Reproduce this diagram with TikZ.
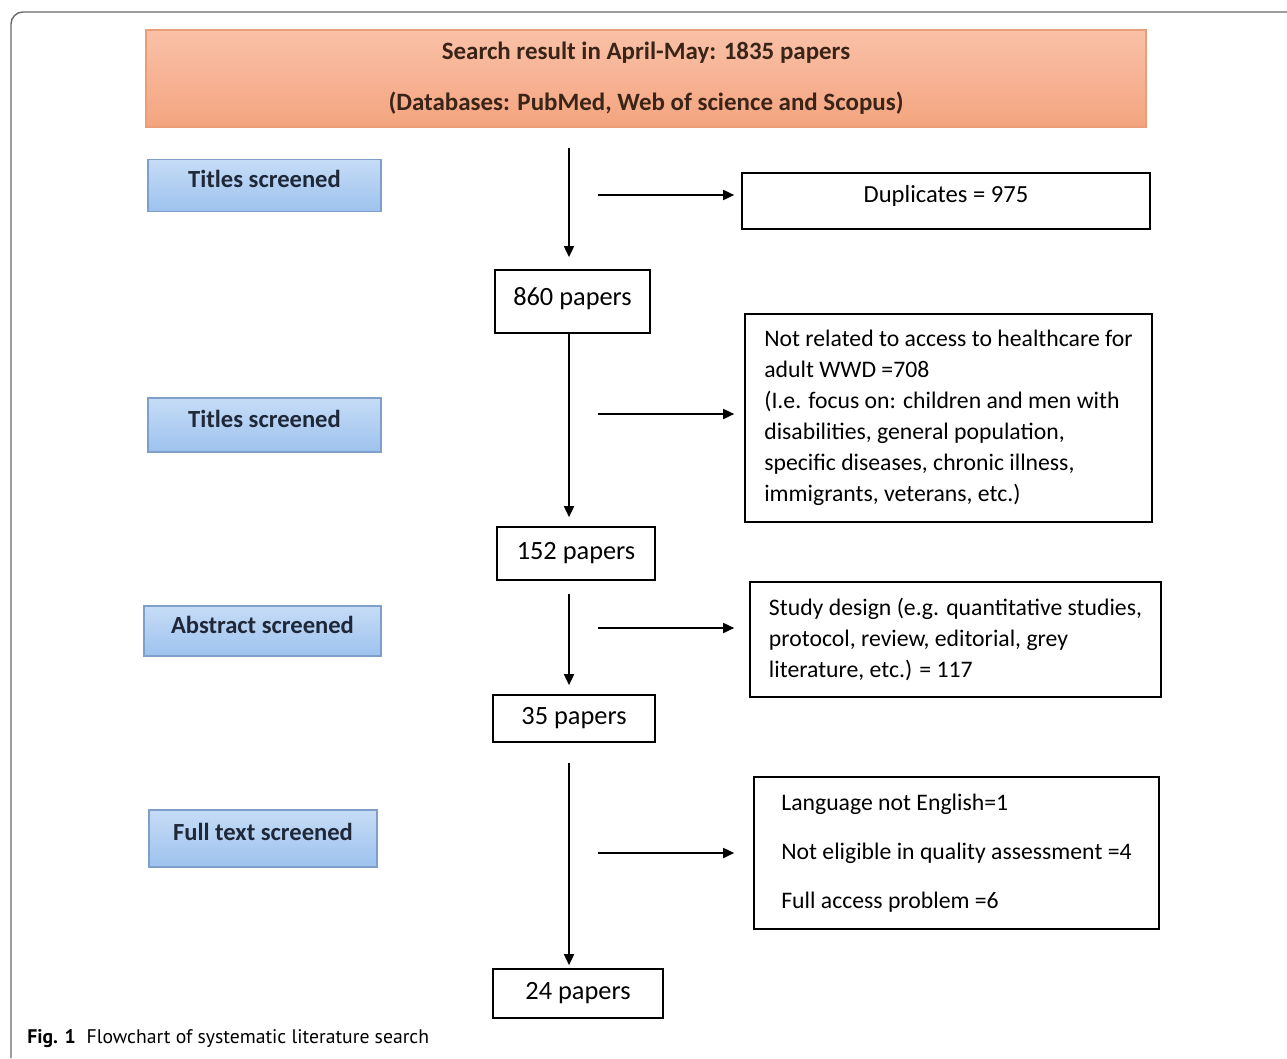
\documentclass[tikz,border=0pt]{standalone}
\usepackage{fontspec}
\setmainfont{Carlito}
\newfontfamily\capfont{PT Sans}
\usetikzlibrary{positioning, arrows.meta}

\definecolor{srchtop}{HTML}{F9C1A8}
\definecolor{srchbot}{HTML}{F4A47F}
\definecolor{srchline}{HTML}{E99E78}
\definecolor{srchtext}{HTML}{3A2418}
\definecolor{stagetop}{HTML}{C6DCF6}
\definecolor{stagebot}{HTML}{9DC2EE}
\definecolor{stageline}{HTML}{7D9FC8}
\definecolor{stagetext}{HTML}{1E2838}
\definecolor{framegray}{HTML}{6A6A6A}

\begin{document}
\begin{tikzpicture}[
    x=0.02cm, y=-0.02cm,
    search/.style={rectangle, draw=srchline, line width=1pt, top color=srchtop, bottom color=srchbot, minimum width=20cm, minimum height=1.94cm, align=center, text=srchtext, font=\fontsize{14.2}{17}\selectfont\bfseries},
    stage/.style={rectangle, draw=stageline, line width=0.8pt, top color=stagetop, bottom color=stagebot, minimum width=#1, minimum height=1.04cm, text depth=0.25cm, text=stagetext, font=\fontsize{14}{16}\selectfont\bfseries},
    paper/.style={rectangle, draw, line width=1pt, minimum width=#1, font=\fontsize{15}{18}\selectfont},
    excl/.style={rectangle, draw, line width=1pt, align=left, font=\fontsize{13.5}{17.6}\selectfont},
    flow/.style={-{Triangle[length=2.2mm, width=2mm]}, line width=1pt},
    frame/.style={draw=framegray, line width=0.8pt, rounded corners=0.24cm},
]
\useasboundingbox (0,0) rectangle (1287,1058);

% ========== FRAME ==========
\draw[frame] (11,1058) -- (11,12) -- (1287,12);

% ========== SEARCH ==========
\node[search] (search) at (646,78.5) {Search result in April-May: 1835 papers\\[12pt](Databases: PubMed, Web of science and Scopus)};

% ========== STAGES (left) ==========
\node[stage=4.66cm] (tit1) at (264.5,185.5) {Titles screened};
\node[stage=4.66cm, minimum height=1.08cm] (tit2) at (264.5,425) {Titles screened};
\node[stage=4.74cm, minimum height=1.0cm] (abst) at (262.5,631) {Abstract screened};
\node[stage=4.56cm, minimum height=1.14cm] (full) at (263,838.5) {Full text screened};

% ========== PAPERS (middle) ==========
\node[paper=3.1cm, minimum height=1.26cm, text depth=0.2cm] (p860) at (572.5,301.5) {860 papers};
\node[paper=3.16cm, minimum height=1.06cm] (p152) at (576,553.5) {152 papers};
\node[paper=3.24cm, minimum height=0.94cm] (p35) at (574,718.5) {35 papers};
\node[paper=3.4cm, minimum height=0.98cm] (p24) at (578,993.5) {24 papers};

% ========== EXCLUDED (right) ==========
\node[excl, align=center, minimum width=8.16cm, minimum height=1.12cm, text depth=0.28cm, font=\fontsize{14}{17}\selectfont] (dup) at (946,201) {Duplicates = 975};
\node[excl, minimum width=8.14cm, minimum height=4.16cm] (notrel) at (948.5,418) {Not related to access to healthcare for\\adult WWD =708\\(I.e. focus on: children and men with\\disabilities, general population,\\specific diseases, chronic illness,\\immigrants, veterans, etc.)};
\node[excl, minimum width=8.22cm, minimum height=2.3cm] (design) at (955.5,639.5) {Study design (e.g. quantitative studies,\\protocol, review, editorial, grey\\literature, etc.) = 117};
\node[excl, minimum width=8.1cm, minimum height=3.04cm] (lang) at (956.5,853) {Language not English=1\\[10.4pt]Not eligible in quality assessment =4\\[10.4pt]Full access problem =6};

% ========== ARROWS ==========
\coordinate (top) at (569,148);
\draw[flow, shorten >=0.24cm] (top) -- (top |- p860.north);
\draw[flow, shorten >=0.18cm] (p860.south -| top) -- (p152.north -| top);
\draw[flow, shorten <=0.26cm, shorten >=0.18cm] (p152.south -| top) -- (p35.north -| top);
\draw[flow, shorten <=0.4cm, shorten >=0.06cm] (p35.south -| top) -- (p24.north -| top);

\coordinate (s1) at (598,195);
\coordinate (s2) at (598,414);
\coordinate (s3) at (598,628);
\coordinate (s4) at (598,853);
\draw[flow, shorten >=0.14cm] (s1) -- (s1 -| dup.west);
\draw[flow, shorten >=0.2cm] (s2) -- (s2 -| notrel.west);
\draw[flow, shorten >=0.3cm] (s3) -- (s3 -| design.west);
\draw[flow, shorten >=0.38cm] (s4) -- (s4 -| lang.west);

% ========== CAPTION ==========
\node[anchor=west, inner sep=0pt, font=\capfont\fontsize{11.2}{13}\selectfont] (cap) at (27,1039) {\textbf{Fig. 1}\hspace{0.55em}Flowchart of systematic literature search};

\end{tikzpicture}
\end{document}
